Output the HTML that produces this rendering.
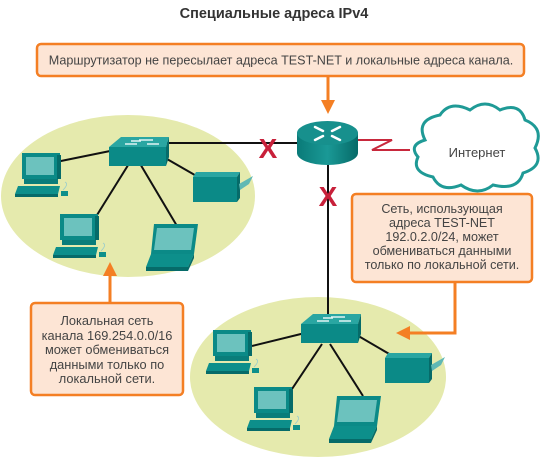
<!DOCTYPE html>
<html><head><meta charset="utf-8"><style>
html,body{margin:0;padding:0;background:#fff;}
svg{display:block;font-family:"Liberation Sans",sans-serif;}
</style></head><body>
<svg width="547" height="469" viewBox="0 0 547 469" xmlns="http://www.w3.org/2000/svg">
<defs>
<linearGradient id="tg" x1="0" y1="0" x2="1" y2="0"><stop offset="0" stop-color="#0a7a78"/><stop offset="0.5" stop-color="#1a9996"/><stop offset="1" stop-color="#066a68"/></linearGradient>
<g id="desk">
  <rect x="7" y="0" width="38" height="26" fill="#0b8a87"/>
  <rect x="11" y="4" width="28" height="18" fill="#6cc2be"/>
  <rect x="42" y="2" width="4" height="24" fill="#066b69"/>
  <rect x="9" y="26" width="34" height="5" fill="#0a7d7a"/>
  <polygon points="3,33 45,33 43,41 0,41" fill="#0d8f8b"/>
  <rect x="0" y="41" width="43" height="3" fill="#066b69"/>
  <rect x="46" y="38" width="7" height="5" fill="#0d8f8b"/>
  <path d="M48,37 q6,-6 2,-8" stroke="#9cc" stroke-width="0.8" fill="none"/>
</g>
<g id="sw">
  <polygon points="12,0 60,0 57,10 0,10" fill="#2aa6a2"/>
  <polygon points="0,10 57,10 57,29 0,29" fill="#0b8a87"/>
  <polygon points="57,10 60,0 60,20 57,29" fill="#066b69"/>
  <path d="M16,7 h12 M30,3 h14 M22,4 h10 M38,7 h12" stroke="#e0f4f3" stroke-width="1.4"/>
</g>
<g id="prn">
  <polygon points="3,0 47,0 44,5 0,5" fill="#2aa6a2"/>
  <rect x="0" y="5" width="44" height="25" fill="#0b8a87"/>
  <polygon points="44,5 47,0 47,26 44,30" fill="#066b69"/>
  <polygon points="46,12 60,4 56,12 47,18" fill="#5fb8b4"/>
</g>
<g id="lap">
  <polygon points="8,0 52,0 48,30 5,30" fill="#0b8a87"/>
  <polygon points="11,4 48,4 45,26 8,26" fill="#6cc2be"/>
  <polygon points="5,30 48,30 42,43 0,43" fill="#0d8f8b"/>
  <rect x="0" y="43" width="42" height="4" fill="#066b69"/>
  <polygon points="42,43 48,30 48,34 42,47" fill="#066b69"/>
</g>
</defs>

<text x="274" y="18" text-anchor="middle" font-size="14.5" font-weight="bold" fill="#333">Специальные адреса IPv4</text>

<ellipse cx="128" cy="196" rx="127" ry="81" fill="#e5eaad"/>
<ellipse cx="318" cy="377" rx="128" ry="80" fill="#e5eaad"/>

<rect x="37" y="44" width="487" height="32" rx="4" fill="#fde5d5" stroke="#f47f24" stroke-width="2.5"/>
<text x="281" y="64.5" text-anchor="middle" font-size="12.6" fill="#444">Маршрутизатор не пересылает адреса TEST-NET и локальные адреса канала.</text>
<line x1="328" y1="76" x2="328" y2="104" stroke="#f47f24" stroke-width="3"/>
<polygon points="321,100 335,100 328,114" fill="#f47f24"/>

<g stroke="#111" stroke-width="2">
<line x1="165" y1="143" x2="300" y2="143"/>
<line x1="56" y1="162" x2="115" y2="150"/>
<line x1="160" y1="155" x2="200" y2="178"/>
<line x1="130" y1="162" x2="97" y2="215"/>
<line x1="139" y1="162" x2="177" y2="226"/>
<line x1="328" y1="160" x2="328" y2="316"/>
<line x1="252" y1="346" x2="305" y2="333"/>
<line x1="355" y1="334" x2="391" y2="355"/>
<line x1="322" y1="344" x2="292" y2="389"/>
<line x1="330" y1="344" x2="363" y2="396"/>
</g>

<use href="#sw" x="109" y="137"/>
<use href="#desk" x="15" y="153"/>
<use href="#prn" x="193" y="172"/>
<use href="#desk" x="53" y="214"/>
<use href="#lap" x="146" y="224"/>
<use href="#sw" x="301" y="314"/>
<use href="#desk" x="206" y="330"/>
<use href="#prn" x="385" y="353"/>
<use href="#desk" x="247" y="387"/>
<use href="#lap" x="329" y="396"/>

<path d="M297,133 v20 a30.5,12 0 0 0 61,0 v-20 z" fill="url(#tg)"/>
<ellipse cx="327.5" cy="133" rx="30.5" ry="12" fill="#17908d"/>
<g stroke="#fff" stroke-width="2.5" stroke-linecap="round">
<line x1="315" y1="127" x2="323" y2="131"/><line x1="340" y1="127" x2="332" y2="131"/>
<line x1="315" y1="140" x2="323" y2="136"/><line x1="340" y1="140" x2="332" y2="136"/>
</g>
<line x1="358" y1="140" x2="374" y2="140" stroke="#c8283c" stroke-width="2"/>
<polyline points="374,140 392,140 372,150 395,150 410,150" fill="none" stroke="#c8283c" stroke-width="2"/>

<path d="M425,140 q-10,-20 15,-25 q10,-15 30,-5 q15,-12 30,0 q20,-8 25,10 q20,8 10,28 q10,18 -12,25 q-5,18 -30,12 q-15,12 -32,0 q-20,8 -28,-8 q-22,-5 -15,-20 q-10,-12 7,-17 z" fill="#fff" stroke="#1f9a96" stroke-width="3"/>
<text x="477" y="157" text-anchor="middle" font-size="13" fill="#444">Интернет</text>

<text x="268" y="158" text-anchor="middle" font-size="28" font-weight="bold" fill="#c8203a">X</text>
<text x="328" y="206" text-anchor="middle" font-size="28" font-weight="bold" fill="#c8203a">X</text>

<rect x="352" y="194" width="180" height="88" rx="4" fill="#fde5d5" stroke="#f47f24" stroke-width="2.5"/>
<g font-size="12.6" fill="#444" text-anchor="middle">
<text x="442" y="213">Сеть, использующая</text>
<text x="442" y="227">адреса TEST-NET</text>
<text x="442" y="241">192.0.2.0/24, может</text>
<text x="442" y="255">обмениваться данными</text>
<text x="442" y="269">только по локальной сети.</text>
</g>
<polyline points="455,282 455,333 404,333" fill="none" stroke="#f47f24" stroke-width="3"/>
<polygon points="396,333 410,326 410,340" fill="#f47f24"/>

<rect x="31" y="303" width="152" height="92" rx="4" fill="#fde5d5" stroke="#f47f24" stroke-width="2.5"/>
<g font-size="12.8" fill="#444" text-anchor="middle">
<text x="107" y="325">Локальная сеть</text>
<text x="107" y="340">канала 169.254.0.0/16</text>
<text x="107" y="354">может обмениваться</text>
<text x="107" y="369">данными только по</text>
<text x="107" y="383">локальной сети.</text>
</g>
<line x1="110" y1="303" x2="110" y2="272" stroke="#f47f24" stroke-width="3"/>
<polygon points="103,276 117,276 110,262" fill="#f47f24"/>
</svg>
</body></html>
